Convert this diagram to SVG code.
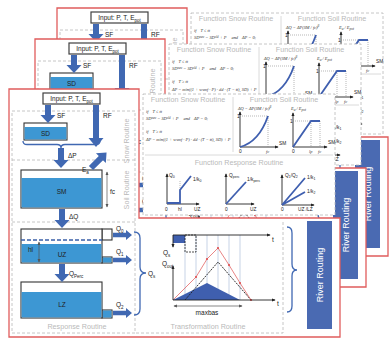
<svg xmlns="http://www.w3.org/2000/svg" xmlns:xlink="http://www.w3.org/1999/xlink" width="390" height="349" viewBox="0 0 390 349">
<style>
.red{fill:#fff;stroke:#e05c5c;stroke-width:1.3}
.dash{fill:none;stroke:#b8b8b8;stroke-width:0.8;stroke-dasharray:3 2}
.sep{stroke:#d0d0d0;stroke-width:0.8;fill:none}
.glab{font-family:"Liberation Sans",Arial,sans-serif;font-size:7.2px;fill:#b9b9b9}
.lab{font-family:"Liberation Sans",Arial,sans-serif;font-size:6.5px;fill:#222}
.sm{font-family:"Liberation Sans",Arial,sans-serif;font-size:4.8px;fill:#222}
.math{font-family:"Liberation Serif","Times New Roman",serif;font-style:italic;font-size:4.4px;fill:#333}
.ax{stroke:#222;stroke-width:0.9;fill:none}
.cl{stroke:#3f5faf;stroke-width:1.8;fill:none}
.dot{stroke:#888;stroke-width:0.6;stroke-dasharray:1 1;fill:none}
.arr{fill:#4068b2}
.box{stroke:#333;stroke-width:1.1;fill:#fff}
.water{fill:#3d97d3}
.brace{fill:none;stroke:#4068b2;stroke-width:1.3}
.thin{stroke:#555;stroke-width:0.7;fill:none}
.grid{stroke:#b9c8df;stroke-width:0.8}
</style>
<defs>
<marker id="ah" viewBox="0 0 6 6" refX="5" refY="3" markerWidth="4" markerHeight="4" orient="auto-start-reverse" markerUnits="userSpaceOnUse"><path d="M0,0.5 L6,3 L0,5.5z" fill="#222"/></marker>
<marker id="ahg" viewBox="0 0 6 6" refX="5" refY="3" markerWidth="3.5" markerHeight="3.5" orient="auto-start-reverse" markerUnits="userSpaceOnUse"><path d="M0,0.5 L6,3 L0,5.5z" fill="#555"/></marker>
</defs>

<use xlink:href="#card" href="#card" transform="translate(48,-81)"/>
<use xlink:href="#card" href="#card" transform="translate(26,-50)"/>

<g id="card">
  <g id="frame">
    <polygon class="red" points="9,89 139,89 139,218 340,218 340,337 9,337"/>
    <path class="dash" d="M12,111 H135 V333 H12 Z M12,160 H135 M12,222 H135 M283,222 V333 H135"/>
    <text class="glab" transform="translate(129,141) rotate(-90)" text-anchor="middle">Snow Routine</text>
    <text class="glab" transform="translate(129,190) rotate(-90)" text-anchor="middle">Soil Routine</text>
    <text class="glab" x="77" y="329" text-anchor="middle">Response Routine</text>
    <text class="glab" x="208" y="329" text-anchor="middle">Transformation Routine</text>
  </g>

  <g id="functions">
    <rect x="143" y="94" width="192" height="121" fill="#fff" stroke="#b8b8b8" stroke-width="0.8" stroke-dasharray="3 2"/>
    <path class="sep" d="M233,97 V152 M145,155 H333"/>
    <text class="glab" x="188" y="102" text-anchor="middle">Function Snow Routine</text>
    <text class="glab" x="284" y="102" text-anchor="middle">Function Soil Routine</text>
    <text class="glab" x="239" y="165" text-anchor="middle">Function Response Routine</text>
    <text class="math" x="146" y="113">if <tspan dx="3">T ≤ tt</tspan></text>
    <text class="math" x="146" y="120">SD<tspan dy="-1.5" font-size="3">new</tspan><tspan dy="1.5"> = SD</tspan><tspan dy="-1.5" font-size="3">old</tspan><tspan dy="1.5"> + P </tspan><tspan dx="4">and</tspan><tspan dx="4">ΔP = 0;</tspan></text>
    <text class="math" x="146" y="133">if <tspan dx="3">T ≥ tt</tspan></text>
    <text class="math" x="146" y="141">ΔP = min((1 + wsmf · P) · dd · (T − tt), SD) + P</text>

    <text class="math" x="238" y="110" font-size="5">ΔQ = ΔP(SM / fc)<tspan dy="-1.8" font-size="3.5">β</tspan></text>
    <path class="ax" d="M240,147 V112" marker-end="url(#ah)"/>
    <path class="ax" d="M240,147 H278" marker-end="url(#ah)"/>
    <path class="dot" d="M240,116 H268 V147"/>
    <path class="cl" d="M240,147 Q259,142 268,116"/>
    <text class="sm" x="237" y="118">1</text>
    <text class="sm" x="239" y="153">0</text>
    <text class="math" x="266" y="153" font-size="4.8">fc</text>
    <text class="sm" x="279" y="145">SM</text>

    <text class="math" x="291" y="110" font-size="5">E<tspan dy="1" font-size="3.5">a</tspan><tspan dy="-1"> / E</tspan><tspan dy="1" font-size="3.5">pot</tspan></text>
    <path class="ax" d="M293,147 V113" marker-end="url(#ah)"/>
    <path class="ax" d="M293,147 H327" marker-end="url(#ah)"/>
    <path class="dot" d="M293,121 H320 M311,121 V147 M320,121 V147"/>
    <path class="cl" d="M293,147 L311,121 H320"/>
    <text class="sm" x="290" y="123">1</text>
    <text class="sm" x="292" y="153">0</text>
    <text class="math" x="309" y="153" font-size="4.8">lp</text>
    <text class="math" x="318" y="153" font-size="4.8">fc</text>
    <text class="sm" x="328" y="144">SM</text>

    <path class="ax" d="M167,204 V174" marker-end="url(#ah)"/>
    <path class="ax" d="M167,204 H199" marker-end="url(#ah)"/>
    <path class="dot" d="M180,190 V180"/>
    <path class="cl" d="M167,203 H180 V190 L191,176"/>
    <text class="sm" x="169" y="177">Q<tspan dy="1" font-size="3.5">0</tspan></text>
    <text class="sm" x="193" y="181">1/k<tspan dy="1" font-size="3.5">0</tspan></text>
    <text class="sm" x="165" y="211">0</text>
    <text class="sm" x="178" y="211">hl</text>
    <text class="sm" x="194" y="211">UZ</text>

    <path class="ax" d="M226,204 V174" marker-end="url(#ah)"/>
    <path class="ax" d="M226,204 H254" marker-end="url(#ah)"/>
    <path class="cl" d="M226,204 L246,182"/>
    <text class="sm" x="229" y="177">Q<tspan dy="1" font-size="3.5">perc</tspan></text>
    <text class="sm" x="247" y="181">1/k<tspan dy="1" font-size="3.5">perc</tspan></text>
    <text class="sm" x="225" y="211">0</text>
    <text class="sm" x="250" y="211">UZ</text>

    <path class="ax" d="M282,205 V175" marker-end="url(#ah)"/>
    <path class="ax" d="M282,205 H314" marker-end="url(#ah)"/>
    <path class="cl" d="M282,205 L305,178 M282,205 L305,192"/>
    <text class="sm" x="285" y="177">Q<tspan dy="1" font-size="3.5">1</tspan><tspan dy="-1">/Q</tspan><tspan dy="1" font-size="3.5">2</tspan></text>
    <text class="sm" x="307" y="179">1/k<tspan dy="1" font-size="3.5">1</tspan></text>
    <text class="sm" x="307" y="193">1/k<tspan dy="1" font-size="3.5">2</tspan></text>
    <text class="sm" x="281" y="211">0</text>
    <text class="sm" x="298" y="211">UZ /LZ</text>
  </g>

  <g id="input">
    <rect x="43" y="93" width="57" height="11" fill="#fff" stroke="#404040" stroke-width="1.2"/>
    <text class="lab" x="71.5" y="101.2" text-anchor="middle" font-size="7">Input: P, T, E<tspan dy="1.5" font-size="4.5">pot</tspan></text>
  </g>

  <g id="sd">
    <rect class="box" x="24" y="123" width="43" height="17"/>
    <rect class="water" x="24.6" y="127" width="41.8" height="12.4"/>
    <text class="lab" x="45.5" y="135.5" text-anchor="middle" font-size="6">SD</text>
  </g>

  <g id="sm">
    <rect class="box" x="21" y="170" width="81" height="38"/>
    <rect class="water" x="21.6" y="178" width="79.8" height="29.4"/>
    <text class="lab" x="61.5" y="194" text-anchor="middle" font-size="6.5">SM</text>
  </g>

  <g id="uz">
    <rect class="box" x="102" y="229" width="10" height="11"/>
    <rect class="box" x="102" y="257" width="10" height="6"/>
    <rect x="102.5" y="257.5" width="9" height="5" class="water"/>
    <rect class="box" x="21" y="229" width="81" height="34"/>
    <rect class="water" x="21.6" y="244" width="79.8" height="18.4"/>
    <path d="M21,240 H102" stroke="#3a5fa8" stroke-width="1.4" stroke-dasharray="4 2"/>
    <text class="lab" x="62" y="257" text-anchor="middle" font-size="6.5">UZ</text>
    <path class="thin" d="M39,242 V262" marker-start="url(#ahg)" marker-end="url(#ahg)"/>
    <text class="lab" x="28" y="252" font-size="6">hl</text>
  </g>

  <g id="lz">
    <rect class="box" x="102" y="310" width="10" height="8"/>
    <rect x="102.5" y="310.5" width="9" height="7" class="water"/>
    <rect class="box" x="21" y="282" width="81" height="36"/>
    <rect class="water" x="21.6" y="292" width="79.8" height="25.4"/>
    <text class="lab" x="62" y="307" text-anchor="middle" font-size="6.5">LZ</text>
  </g>

  <g id="transform">
    <path class="grid" d="M185,235 V300 M196,235 V300 M207,235 V300 M218,235 V300 M229,235 V300 M240,235 V300"/>
    <rect x="173" y="235" width="12" height="8" fill="#3f5faf"/>
    <rect x="185" y="235" width="11" height="17" fill="none" stroke="#222" stroke-width="0.8" stroke-dasharray="2 1"/>
    <path class="ax" d="M173,235 H270" marker-end="url(#ah)"/>
    <path class="ax" d="M173,235 V247" marker-end="url(#ah)"/>
    <text class="lab" x="272" y="242" font-size="6.5">t</text>
    <text class="lab" x="163" y="255" font-size="6.5">Q<tspan dy="1.5" font-size="4.5">s</tspan></text>
    <text class="lab" x="162" y="266" font-size="6.5">Q<tspan dy="1.5" font-size="4.5">out</tspan></text>
    <polygon points="173,300 207,283 240,300" fill="#3f5faf"/>
    <path d="M185,300 L218,262 L251,300" fill="none" stroke="#222" stroke-width="0.9" stroke-dasharray="2 1"/>
    <path d="M173,300 L196,277 L207,259 L218,248 L229,265 L240,283 L251,300" fill="none" stroke="#e05050" stroke-width="0.7"/>
    <g fill="#e05050">
      <circle cx="196" cy="277" r="1.1"/><circle cx="207" cy="259" r="1.1"/><circle cx="218" cy="248" r="1.1"/><circle cx="229" cy="265" r="1.1"/><circle cx="240" cy="283" r="1.1"/><circle cx="251" cy="300" r="1.1"/>
    </g>
    <path class="ax" d="M173,300 V266" marker-end="url(#ah)"/>
    <path class="ax" d="M173,300 H275" marker-end="url(#ah)"/>
    <text class="lab" x="277" y="306" font-size="6.5">t</text>
    <path class="thin" d="M174,306 H242" marker-start="url(#ahg)" marker-end="url(#ahg)"/>
    <text class="lab" x="207" y="315" text-anchor="middle" font-size="7.8">maxbas</text>
  </g>

  <g id="riverRouting">
    <rect x="307" y="221" width="25" height="108" fill="#4a6ab2"/>
    <text transform="translate(323,275) rotate(-90)" text-anchor="middle" font-family="Liberation Sans, Arial, sans-serif" font-size="9" fill="#fff">River Routing</text>
  </g>

  <g id="connectors">
    <polygon class="arr" points="45,105 51,105 51,115 55.5,115 48,123 40.5,115 45,115"/>
    <text class="lab" x="57" y="118">SF</text>
    <polygon class="arr" points="93,105 99,105 99,138 103.5,138 96,147 88.5,138 93,138"/>
    <text class="lab" x="103" y="118">RF</text>
    <path class="brace" d="M23,141 Q23,144.5 27,144.5 L57,144.5 Q61,144.5 61,148 Q61,144.5 65,144.5 L96,144.5 Q100,144.5 100,141"/>
    <polygon class="arr" points="58,148 64,148 64,160 68.5,160 61,168 53.5,160 58,160"/>
    <text class="lab" x="68" y="158">ΔP</text>
    <polygon class="arr" transform="translate(91,168) rotate(-45)" points="0,-3 14,-3 14,-7 22,0 14,7 14,3 0,3"/>
    <text class="lab" x="82" y="172">E<tspan dy="1.5" font-size="4.5">a</tspan></text>
    <path class="thin" d="M107,172 V207" marker-start="url(#ahg)" marker-end="url(#ahg)"/>
    <text class="lab" x="110" y="194">fc</text>
    <polygon class="arr" points="59,209 65,209 65,220 69.5,220 62,228 54.5,220 59,220"/>
    <text class="lab" x="69" y="219">ΔQ</text>
    <polygon class="arr" points="59,264 65,264 65,274 69.5,274 62,282 54.5,274 59,274"/>
    <text class="lab" x="69" y="276">Q<tspan dy="1.5" font-size="4.5">Perc</tspan></text>
    <polygon class="arr" points="113,232.8 126,232.8 126,230 132,235 126,240 126,237.2 113,237.2"/>
    <text class="lab" x="116" y="231">Q<tspan dy="1.5" font-size="4.5">0</tspan></text>
    <polygon class="arr" points="113,257.8 126,257.8 126,255 132,260 126,265 126,262.2 113,262.2"/>
    <text class="lab" x="116" y="254">Q<tspan dy="1.5" font-size="4.5">1</tspan></text>
    <polygon class="arr" points="113,310.8 126,310.8 126,308 132,313 126,318 126,315.2 113,315.2"/>
    <text class="lab" x="116" y="307">Q<tspan dy="1.5" font-size="4.5">2</tspan></text>
    <path class="brace" d="M134,232 Q140,232 140,238 L140,267 Q140,273 146,273 Q140,273 140,279 L140,309 Q140,315 134,315"/>
    <text class="lab" x="148" y="276">Q<tspan dy="1.5" font-size="4.5">s</tspan></text>
    <path class="brace" d="M287,227 Q292,227 292,233 L292,264 Q292,270 297,270 Q292,270 292,276 L292,306 Q292,312 287,312"/>
  </g>
</g>
</svg>
